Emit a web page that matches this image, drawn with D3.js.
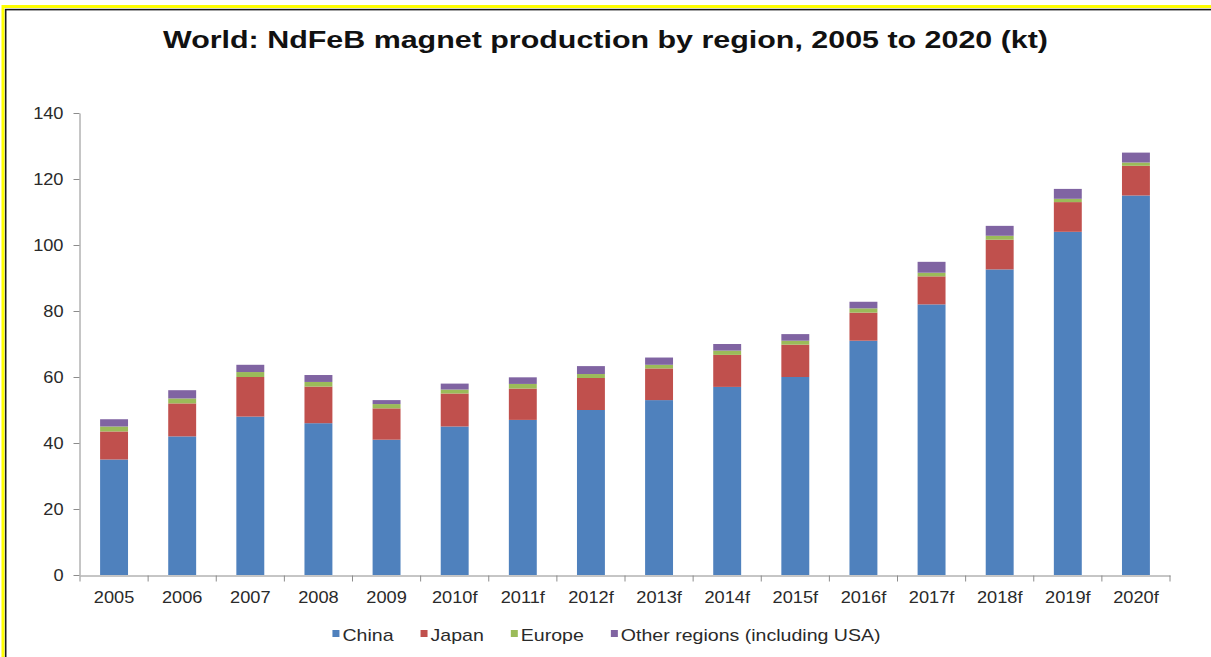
<!DOCTYPE html>
<html>
<head>
<meta charset="utf-8">
<script src="https://cdn.jsdelivr.net/npm/d3@7"></script>
<style>
  html, body { margin: 0; padding: 0; background: #fff; }
  svg { display: block; }
  text { font-family: "Liberation Sans", Arial, sans-serif; }
</style>
</head>
<body>
<svg id="chart" width="1211" height="657"></svg>
<script>
const categories = ["2005","2006","2007","2008","2009","2010f","2011f","2012f","2013f","2014f","2015f","2016f","2017f","2018f","2019f","2020f"];
const seriesNames = ["China","Japan","Europe","Other regions (including USA)"];
const china  = [35, 42, 48, 46, 41, 45, 47, 50, 53, 57, 60, 71, 82, 92.6, 104, 115];
const japan  = [8.5, 10, 12, 11.1, 9.5, 10, 9.5, 9.7, 9.6, 9.7, 9.8, 8.5, 8.5, 9, 9, 9];
const europe = [1.5, 1.5, 1.5, 1.4, 1.3, 1.2, 1.4, 1.2, 1.1, 1.3, 1.2, 1.3, 1.1, 1.2, 1.0, 1.0];
const other  = [2.2, 2.5, 2.2, 2.1, 1.2, 1.8, 2.0, 2.4, 2.2, 2.0, 2.0, 2.0, 3.3, 3.0, 3.0, 3.0];
const yTicks = [0, 20, 40, 60, 80, 100, 120, 140];
const titleText = "World: NdFeB magnet production by region, 2005 to 2020 (kt)";
const colors = ["#4F81BD", "#C0504D", "#9BBB59", "#8064A2"];

const svg = d3.select("#chart");

function stretch(sel, k) {
  sel.each(function () {
    const w = this.getComputedTextLength();
    d3.select(this).attr("textLength", w * k).attr("lengthAdjust", "spacingAndGlyphs");
  });
}

// frame (yellow + black edge)
svg.append("rect").attr("x", 0).attr("y", 0).attr("width", 1211).attr("height", 657).attr("fill", "#fff");
svg.append("rect").attr("x", 3).attr("y", 6.5).attr("width", 1220).attr("height", 700)
  .attr("fill", "none").attr("stroke", "#FFFF00").attr("stroke-width", 3);
svg.append("rect").attr("x", 5.7).attr("y", 9.6).attr("width", 1220).attr("height", 700)
  .attr("fill", "none").attr("stroke", "#1a1a1a").attr("stroke-width", 1.6);

const table = categories.map((c, i) => ({
  cat: c,
  "China": china[i], "Japan": japan[i], "Europe": europe[i],
  "Other regions (including USA)": other[i]
}));
const stacked = d3.stack().keys(seriesNames)(table);

const x = d3.scaleBand().domain(categories).range([80, 1170]).paddingInner(0.59).paddingOuter(0.295);
const y = d3.scaleLinear().domain([0, 140]).range([575, 113]);
const color = d3.scaleOrdinal().domain(seriesNames).range(colors);

// title
svg.append("text")
  .attr("x", 605.5).attr("y", 48)
  .attr("text-anchor", "middle")
  .attr("font-size", 24).attr("font-weight", "bold").attr("fill", "#111")
  .attr("textLength", 885).attr("lengthAdjust", "spacingAndGlyphs")
  .text(titleText);

// bars
svg.append("g").selectAll("g").data(stacked).join("g")
  .attr("fill", d => color(d.key))
  .selectAll("rect").data(d => d).join("rect")
  .attr("x", d => x(d.data.cat))
  .attr("width", x.bandwidth())
  .attr("y", d => y(d[1]))
  .attr("height", d => y(d[0]) - y(d[1]));

// y axis
const yAxis = svg.append("g").attr("transform", "translate(79.5,0)")
  .call(d3.axisLeft(y).tickValues(yTicks).tickSize(6).tickPadding(10).tickSizeOuter(0));
yAxis.select(".domain").attr("stroke", "#8c8c8c");
yAxis.selectAll(".tick line").attr("stroke", "#8c8c8c");
yAxis.selectAll(".tick text").attr("font-size", 17).attr("fill", "#2a2a2a")
  .attr("font-family", "'Liberation Sans', Arial, sans-serif");
stretch(yAxis.selectAll(".tick text"), 1.07);

// x axis
const xAxis = svg.append("g").attr("transform", "translate(0,575.5)")
  .call(d3.axisBottom(x).tickSize(0).tickPadding(15));
xAxis.select(".domain").attr("stroke", "#8c8c8c");
xAxis.selectAll(".tick text").attr("font-size", 17).attr("fill", "#2a2a2a")
  .attr("font-family", "'Liberation Sans', Arial, sans-serif");
stretch(xAxis.selectAll(".tick text"), 1.07);
// boundary ticks
const step = x.step();
const bounds = d3.range(categories.length + 1).map(i => 80 + i * step);
xAxis.selectAll(".bound").data(bounds).join("line").attr("class", "bound")
  .attr("x1", d => d).attr("x2", d => d).attr("y1", 0).attr("y2", 6)
  .attr("stroke", "#8c8c8c");

// legend
const legend = svg.append("g");
let cx = 0;
seriesNames.forEach((name, i) => {
  const g = legend.append("g");
  g.append("rect").attr("x", cx).attr("y", -11).attr("width", 7).attr("height", 7).attr("fill", colors[i]);
  const t = g.append("text").attr("x", cx + 10).attr("y", 0)
    .attr("font-size", 17).attr("fill", "#2a2a2a").text(name);
  const w = t.node().getComputedTextLength() * 1.15;
  t.attr("textLength", w).attr("lengthAdjust", "spacingAndGlyphs");
  cx += 10 + w + 27;
});
const totalW = cx - 27;
legend.attr("transform", `translate(${606.5 - totalW / 2},641)`);
</script>
</body>
</html>
